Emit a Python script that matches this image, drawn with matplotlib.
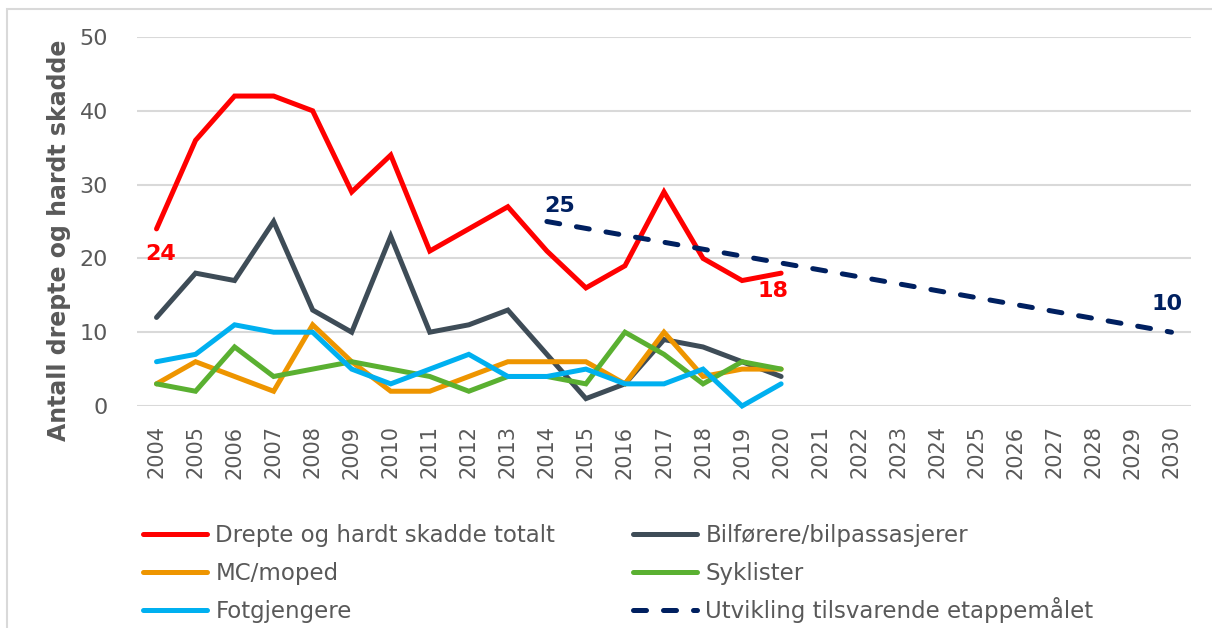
import matplotlib
matplotlib.use("Agg")
import matplotlib.pyplot as plt
from matplotlib.patches import Rectangle

plt.rcParams["font.family"] = ["DejaVu Sans"]

# år på x-aksen og observerte år
years = list(range(2004, 2031))
obs_years = list(range(2004, 2021))

totalt = [24, 36, 42, 42, 40, 29, 34, 21, 24, 27, 21, 16, 19, 29, 20, 17, 18]
bilforere = [12, 18, 17, 25, 13, 10, 23, 10, 11, 13, 7, 1, 3, 9, 8, 6, 4]
mc_moped = [3, 6, 4, 2, 11, 6, 2, 2, 4, 6, 6, 6, 3, 10, 4, 5, 5]
syklister = [3, 2, 8, 4, 5, 6, 5, 4, 2, 4, 4, 3, 10, 7, 3, 6, 5]
fotgjengere = [6, 7, 11, 10, 10, 5, 3, 5, 7, 4, 4, 5, 3, 3, 5, 0, 3]

# etappemål: fra 2014 til 2030
maal_years = [2014, 2030]
maal = [25, 10]

W, H = 1212, 628
fig = plt.figure(figsize=(W / 100, H / 100), dpi=100)
ax = fig.add_axes([137 / W, 1 - 406 / H, (1191 - 137) / W, (406 - 37) / H])

lw = 3.6
serier = [
    ("Drepte og hardt skadde totalt", totalt, "#ff0000"),
    ("Bilførere/bilpassasjerer", bilforere, "#3e4c57"),
    ("MC/moped", mc_moped, "#ee9500"),
    ("Syklister", syklister, "#5ab031"),
    ("Fotgjengere", fotgjengere, "#00b0f0"),
]
handles = {}
for navn, verdier, farge in serier:
    (ln,) = ax.plot(obs_years, verdier, color=farge, lw=lw, label=navn,
                    solid_capstyle="round", solid_joinstyle="miter",
                    clip_on=False, zorder=3)
    handles[navn] = ln

(mln,) = ax.plot(maal_years, maal, color="#002060", lw=lw, ls=(0, (2.6, 3.4)),
                 dash_capstyle="round", label="Utvikling tilsvarende etappemålet",
                 clip_on=False, zorder=4)
handles[mln.get_label()] = mln

# verdietiketter
def etikett(x, y, tekst, farge, dx, dy):
    ax.annotate(tekst, (x, y), xytext=(dx, dy), textcoords="offset points",
                ha="center", va="center", color=farge, fontsize=16,
                fontweight="bold", zorder=5)

etikett(obs_years[0], totalt[0], str(totalt[0]), "#ff0000", 3, -18)
etikett(obs_years[-1], totalt[-1], str(totalt[-1]), "#ff0000", -6, -13)
etikett(maal_years[0], maal[0], str(maal[0]), "#002060", 9, 11)
etikett(maal_years[-1], maal[-1], str(maal[-1]), "#002060", -3, 20)

ax.set_xlim(2003.5, 2030.5)
ax.set_ylim(0, 50)
ax.set_yticks(range(0, 51, 10))
ax.set_xticks(years)
ax.set_xticklabels([str(y) for y in years], rotation=90)
ax.tick_params(axis="x", length=0, pad=14, labelsize=15, labelcolor="#595959")
ax.tick_params(axis="y", length=0, pad=21, labelsize=16, labelcolor="#595959")
ax.grid(axis="y", color="#d9d9d9", lw=1.5, zorder=0)
ax.set_axisbelow(True)
for s in ax.spines.values():
    s.set_visible(False)

ax.set_ylabel("Antall drepte og hardt skadde", fontsize=17, fontweight="bold",
              color="#595959")
ax.yaxis.set_label_coords((71 - 137) / 1054, 0.45)

# forklaring: to kolonner, tre rader (bunnjustert så grunnlinjene står likt)
rekkefolge = [
    ["Drepte og hardt skadde totalt", "Bilførere/bilpassasjerer"],
    ["MC/moped", "Syklister"],
    ["Fotgjengere", "Utvikling tilsvarende etappemålet"],
]
kol_x = [143, 633]
rad_bunn = [547, 585, 623]
for r, rad in enumerate(rekkefolge):
    for k, navn in enumerate(rad):
        fig.legend([handles[navn]], [navn], loc="lower left",
                   bbox_to_anchor=(kol_x[k] / W, 1 - rad_bunn[r] / H),
                   frameon=False, fontsize=16.5, handlelength=2.8,
                   handletextpad=0.36, borderpad=0, borderaxespad=0,
                   labelcolor="#595959")

# tynn ramme rundt figuren
fig.add_artist(Rectangle((7 / W, -0.05), 1.1, (H - 9) / H + 0.05,
                         transform=fig.transFigure, fill=False,
                         ec="#d9d9d9", lw=1.5))

fig.savefig("out.png", dpi=100)
